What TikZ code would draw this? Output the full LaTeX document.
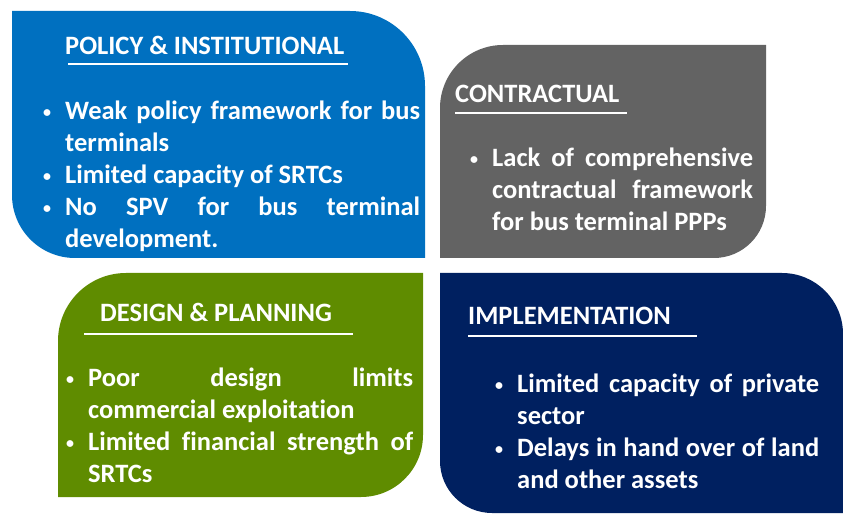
\documentclass[tikz,border=0pt]{standalone}
\usepackage{fontspec}
\setmainfont{Carlito}[Ligatures=NoCommon]
\usepackage{tikz}
\usetikzlibrary{positioning}

\definecolor{polblue}{RGB}{0,112,192}
\definecolor{congray}{RGB}{99,99,99}
\definecolor{desgreen}{RGB}{95,140,0}
\definecolor{impnavy}{RGB}{0,32,96}

% bullet hung into the left margin
\newcommand{\itm}{\noindent\llap{\raisebox{2pt}{\fontsize{16}{16}\selectfont\textbullet}\hspace{14pt}}}

\begin{document}
\begin{tikzpicture}[
  x=1pt, y=1pt,
  %% Text styles
  head/.style  = {anchor=base west, inner sep=0pt, text=white,
                  font=\fontsize{26.5}{32}\selectfont\bfseries},
  body/.style  = {anchor=base west, inner sep=0pt, text=white, align=justify,
                  font=\fontsize{26.5}{32}\selectfont\bfseries},
  uline/.style = {draw=white, line width=2pt},
]
\useasboundingbox (0,0) rectangle (843,514);

%% ── Panels ─────────────────────────────────────────────────────
\fill[polblue] (12,503) -- (350,503) arc[start angle=90,end angle=0,radius=75]
  -- (425,256) -- (75,256) arc[start angle=270,end angle=180,radius=63] -- cycle;
\fill[congray] (440,256) -- (440,406) arc[start angle=180,end angle=90,radius=63]
  -- (766,469) -- (766,308) arc[start angle=0,end angle=-90,radius=52] -- cycle;
\fill[desgreen] (58,17) -- (58,173) arc[start angle=180,end angle=90,radius=68]
  -- (423,241) -- (423,79) arc[start angle=0,end angle=-90,radius=62] -- cycle;
\fill[impnavy] (440,241) -- (782,241) arc[start angle=90,end angle=0,radius=61]
  -- (843,1) -- (492,1) arc[start angle=270,end angle=180,radius=52] -- cycle;

%% ── Policy & institutional ─────────────────────────────────────
\node[head] (polT) at (65,459) {POLICY \& INSTITUTIONAL};
\draw[uline] (68,450) -- (348,450);
\node[body, text width=355pt] (polB) at (65,394) {%
  \itm Weak policy framework for bus\linebreak terminals\par
  \itm Limited capacity of SRTCs\par
  \itm No SPV for bus terminal\linebreak development.};

%% ── Contractual ────────────────────────────────────────────────
\node[head] (conT) at (455,411) {CONTRACTUAL};
\draw[uline] (455,401) -- (627,401);
\node[body, text width=261pt] (conB) at (492,347) {%
  \itm Lack of comprehensive\linebreak contractual framework\linebreak for bus terminal PPPs};

%% ── Design & planning ──────────────────────────────────────────
\node[head] (desT) at (100,192) {DESIGN \& PLANNING};
\draw[uline] (84,180) -- (353,180);
\node[body, text width=325pt] (desB) at (88,127) {%
  \itm Poor design limits\linebreak commercial exploitation\par
  \itm Limited financial strength of\linebreak SRTCs};

%% ── Implementation ─────────────────────────────────────────────
\node[head] (impT) at (468,189) {IMPLEMENTATION};
\draw[uline] (468,178) -- (697,178);
\node[body, text width=302pt] (impB) at (517,121) {%
  \itm Limited capacity of private\linebreak sector\par
  \itm Delays in hand over of land\linebreak and other assets};

\end{tikzpicture}
\end{document}
